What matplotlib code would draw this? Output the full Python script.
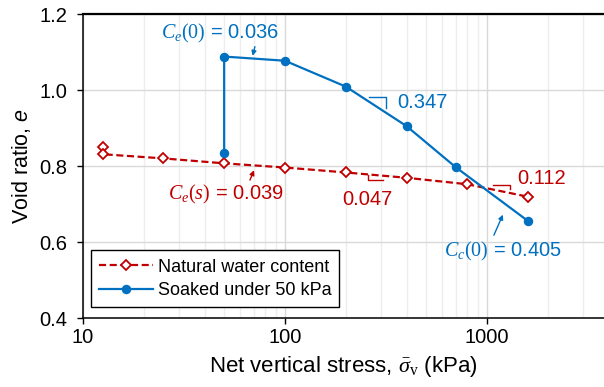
import numpy as np
import matplotlib
matplotlib.use("Agg")
import matplotlib.pyplot as plt
from matplotlib.ticker import FixedLocator, NullFormatter, LogLocator

plt.rcParams["font.family"] = ["Liberation Sans", "DejaVu Sans"]
plt.rcParams["mathtext.fontset"] = "custom"
plt.rcParams["mathtext.rm"] = "Liberation Serif"
plt.rcParams["mathtext.it"] = "Liberation Serif:italic"
plt.rcParams["mathtext.bf"] = "Liberation Serif:bold"
plt.rcParams["mathtext.sf"] = "Liberation Sans:italic"

# natural water content
nat_stress = [12.5, 12.5, 25, 50, 100, 200, 400, 800, 1600]
nat_e = [0.851, 0.831, 0.820, 0.807, 0.796, 0.783, 0.769, 0.752, 0.719]

# soaked under 50 kPa
soak_stress = [50, 50, 100, 200, 400, 700, 1600]
soak_e = [0.833, 1.088, 1.077, 1.009, 0.905, 0.797, 0.655]

red = "#C00000"
blue = "#0070C0"
fs = 14.5

fig = plt.figure(figsize=(6.04, 3.87), dpi=100)
ax = fig.add_axes([83 / 604, 1 - 318 / 387, 1 - 83 / 604, 304 / 387])

ax.plot(nat_stress, nat_e, color=red, ls=(0, (3.2, 1.6)), lw=1.6, marker="D",
        ms=5, mfc="white", mec=red, mew=1.3, label="Natural water content", zorder=3)
ax.plot(soak_stress, soak_e, color=blue, lw=1.6, marker="o", ms=5.8,
        label="Soaked under 50 kPa", zorder=4)

ax.set_xscale("log")
ax.set_xlim(10, 3800)
ax.set_ylim(0.4, 1.2)
ax.set_yticks([0.4, 0.6, 0.8, 1.0, 1.2])
ax.set_yticklabels(["0.4", "0.6", "0.8", "1.0", "1.2"])
ax.xaxis.set_major_locator(FixedLocator([10, 100, 1000]))
ax.set_xticklabels(["10", "100", "1000"])
ax.xaxis.set_minor_locator(LogLocator(base=10, subs=np.arange(2, 10)))
ax.xaxis.set_minor_formatter(NullFormatter())
ax.tick_params(axis="x", which="minor", length=0)
ax.tick_params(axis="both", which="major", labelsize=fs, length=4, width=1,
               direction="out", color="black", pad=3)
ax.tick_params(axis="y", pad=7)

ax.grid(which="major", color="#d9d9d9", lw=1)
ax.grid(which="minor", axis="x", color="#eeeeee", lw=1)
ax.set_axisbelow(True)

ax.spines["right"].set_visible(False)
ax.spines["top"].set_linewidth(1.6)
for s in ["left", "bottom"]:
    ax.spines[s].set_linewidth(1.1)

ax.set_xlabel(r"Net vertical stress, $\bar{\sigma}_\mathrm{v}$ (kPa)", fontsize=16, labelpad=5)
ax.set_ylabel(r"Void ratio, $\mathsf{e}$", fontsize=15.5, labelpad=5)

# annotation texts
ax.text(47.6, 1.15, r"$C_e(0)$ = 0.036", color=blue, fontsize=fs, ha="center", va="center")
ax.text(51, 0.726, r"$C_e(s)$ = 0.039", color=red, fontsize=fs, ha="center", va="center")
ax.text(1200, 0.574, r"$C_c(0)$ = 0.405", color=blue, fontsize=fs, ha="center", va="center")
ax.text(477, 0.968, "0.347", color=blue, fontsize=fs, ha="center", va="center")
ax.text(255, 0.711, "0.047", color=red, fontsize=fs, ha="center", va="center")
ax.text(1871, 0.768, "0.112", color=red, fontsize=fs, ha="center", va="center")

# arrows (tail, head, colour)
arrows = [((71, 1.114), (69.2, 1.090), blue),
          ((67.1, 0.763), (70.3, 0.789), red),
          ((1083, 0.618), (1200, 0.672), blue)]
for tail, head, c in arrows:
    ax.annotate("", xy=head, xytext=tail,
                arrowprops=dict(arrowstyle="-|>", color=c, lw=1, mutation_scale=7,
                                shrinkA=0, shrinkB=0))

# small slope marks
ax.plot([261, 316, 316], [0.982, 0.982, 0.953], color=blue, lw=1)
ax.plot([258, 258, 305], [0.776, 0.763, 0.763], color=red, lw=1)
ax.plot([1072, 1300, 1300], [0.750, 0.750, 0.739], color=red, lw=1)

leg = ax.legend(loc="lower left", bbox_to_anchor=(0.015, 0.036), borderaxespad=0,
                fontsize=13, fancybox=False, edgecolor="black", framealpha=1,
                handlelength=3.0, handletextpad=0.25, borderpad=0.45, labelspacing=0.35)
leg.get_frame().set_linewidth(1)

fig.savefig("out.png", dpi=100)
